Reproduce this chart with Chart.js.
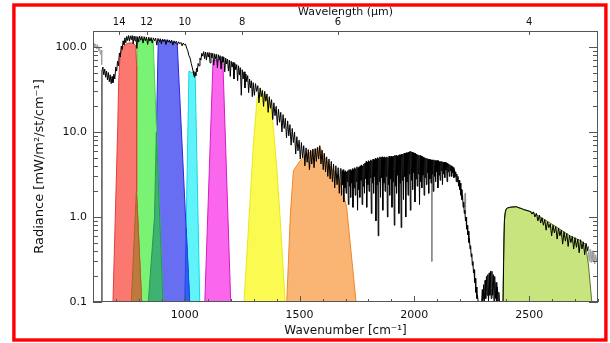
<!DOCTYPE html>
<html>
<head>
<meta charset="utf-8">
<script src="https://cdn.jsdelivr.net/npm/chart.js@4.4.1/dist/chart.umd.min.js"></script>
<style>
  html, body { margin: 0; padding: 0; background: #fff; }
  #wrap { position: relative; width: 610px; height: 343px; }
</style>
</head>
<body>
<div id="wrap"><canvas id="myChart" width="610" height="343"></canvas></div>
<script>
// axis ticks
const wavenumberLabels = [1000, 1500, 2000, 2500];
const wavelengthTicks = [14, 12, 10, 8, 6, 4];
const radianceLabels = [0.1, 1, 10, 100];

// measured spectrum [wavenumber, radiance]
const spectrum = [
  [638,0.09],[639,52],[643,58],[647,47],[651,55],[655,44],[659,52],[663,41],[667,50],[671,39],[675,47],[679,37],[683,45],[687,38],[691,48],[695,42],[699,58],[703,52],[707,68],[711,60],[715,85],[719,76],[723,102],[727,93],[731,118],[735,106],[739,128],[743,112],[747,133],[751,119],[755,136],[759,117],[763,135],[767,122],[771,136],[775,109],[779,134],[783,118],[787,133],[791,96],[795,132],[799,114],[803,134],[808,120],[813,133],[818,111],[823,132],[828,118],[833,131],[838,107],[843,130],[848,117],[853,129],[858,111],[863,128],[868,118],[873,127],[878,105],[883,126],[888,115],[893,125],[898,109],[903,124],[908,116],[913,123],[918,107],[923,122],[928,114],[933,121],[938,111],[943,120],[948,105],[953,118],[958,111],[963,117],[968,107],[973,115],[978,109],[983,113],[988,103],[993,111],[998,106],
  [1003,108],[1008,97],[1013,90],[1018,79],[1023,74],[1028,64],[1032,58],[1036,52],[1039,47],[1042,44],[1045,50],[1048,46],[1051,56],[1054,51],[1058,64],[1062,60],[1066,74],[1070,70],[1074,84],[1078,78],[1082,88],[1086,73],[1090,87],[1094,70],[1098,86],[1102,76],[1106,86],[1110,65],[1114,85],[1118,74],[1122,84],[1126,61],[1130,83],[1134,72],[1138,82],[1142,57],[1146,81],[1150,70],[1154,79],[1158,55],[1162,77],[1166,66],[1170,76],[1174,51],[1178,74],[1182,63],[1186,72],[1190,52],[1194,70],[1198,45],
  [1202,68],[1206,58],[1210,66],[1214,42],[1218,64],[1222,54],[1226,62],[1230,40],[1234,60],[1238,47],[1242,57],[1246,27],[1250,54],[1254,42],[1258,51],[1262,33],[1266,48],[1270,39],[1274,46],[1278,29],[1282,42],[1286,33],[1290,40],[1294,26],[1298,38],
  [1303,27],[1308,37],[1313,30],[1318,35],[1323,22],[1328,33],[1333,26],[1338,31],[1343,20],[1348,30],[1353,23],[1358,28],[1363,17],[1368,26],[1373,19],[1378,24],[1383,14],[1388,22],[1393,15.5],[1398,20],[1403,12],[1408,18.5],[1413,13],[1418,17],[1423,10],[1428,16],[1433,11],[1438,14.5],[1443,8.5],[1448,13.5],[1453,9],[1458,12.2],[1463,7],[1468,11],[1473,7.5],[1478,10],[1483,5.5],[1488,8.8],[1493,6],[1498,8],
  [1503,4.8],[1508,7.5],[1513,5],[1518,6.9],[1523,4],[1528,6.5],[1533,4.4],[1538,6.2],[1543,3.6],[1548,6.1],[1553,4.2],[1558,6.3],[1563,3.8],[1568,6.4],[1573,4.5],[1578,6.6],[1583,4.8],[1588,6.9],[1593,4.2],[1598,6.1],[1603,3.6],[1608,5.6],[1613,3.4],[1618,5.1],[1623,3.0],[1628,4.8],[1633,2.8],[1638,4.5],[1643,2.6],[1648,4.2],[1653,2.2],[1658,4.0],[1663,2.4],[1668,3.8],[1673,1.9],[1678,3.7],
  [1680,3.6],[1682.5,1.8],[1685,3.5],[1687.5,2.4],[1690,3.6],[1692.5,1.5],[1695,3.4],[1697.5,2.2],[1700,3.5],[1702.5,1.9],[1705,3.4],[1707.5,2.6],[1710,3.5],[1712.5,1.4],[1715,3.6],[1717.5,2.3],[1720,3.6],[1722.5,1.7],[1725,3.5],[1727.5,2.5],[1730,3.7],[1732.5,1.3],[1735,3.6],[1737.5,2.2],[1740,3.8],[1742.5,1.8],[1745,3.7],[1747.5,2.6],[1750,3.9],[1752.5,1.2],[1755,3.8],[1757.5,2.1],[1760,3.9],[1762.5,1.7],[1765,4.0],[1767.5,2.7],[1770,4.1],[1772.5,1.4],[1775,4.0],[1777.5,2.3],[1780,4.2],[1782.5,1.9],[1785,4.3],[1787.5,2.8],[1790,4.5],[1792.5,1.3],[1795,4.4],[1797.5,2.4],
  [1800,4.6],[1802.5,2.0],[1805,4.5],[1807.5,2.9],[1810,4.7],[1812.5,1.1],[1815,4.6],[1817.5,2.5],[1820,4.8],[1822.5,1.9],[1825,4.7],[1827.5,3.0],[1830,4.9],[1832.5,0.9],[1835,4.8],[1837.5,2.4],[1840,5.0],[1842.5,0.6],[1845,4.9],[1847.5,2.6],[1850,5.1],[1852.5,1.7],[1855,5.0],[1857.5,2.9],[1860,5.1],[1862.5,1.2],[1865,5.0],[1867.5,2.5],[1870,5.1],[1872.5,2.0],[1875,5.0],[1877.5,3.0],[1880,5.1],[1882.5,1.0],[1885,5.0],[1887.5,2.4],[1890,5.2],[1892.5,1.8],[1895,5.1],[1897.5,2.8],
  [1900,5.2],[1902.5,1.3],[1905,5.1],[1907.5,2.6],[1910,5.2],[1912.5,0.8],[1915,5.3],[1917.5,2.3],[1920,5.3],[1922.5,1.9],[1925,5.2],[1927.5,3.1],[1930,5.3],[1932.5,1.1],[1935,5.4],[1937.5,2.5],[1940,5.4],[1942.5,0.75],[1945,5.5],[1947.5,2.7],[1950,5.5],[1952.5,1.6],[1955,5.6],[1957.5,3.0],[1960,5.6],[1962.5,1.0],[1965,5.7],[1967.5,2.6],[1970,5.7],[1972.5,1.8],[1975,5.8],[1977.5,3.2],[1980,5.9],[1982.5,1.2],[1985,5.9],[1987.5,2.7],[1990,5.8],[1992.5,2.1],[1995,5.7],[1997.5,3.3],
  [2000,5.6],[2002.5,1.5],[2005,5.6],[2007.5,2.8],[2010,5.5],[2012.5,2.3],[2015,5.4],[2017.5,3.2],[2020,5.3],[2022.5,1.4],[2025,5.3],[2027.5,2.6],[2030,5.2],[2032.5,2.2],[2035,5.1],[2037.5,3.1],[2040,5.0],[2042.5,1.8],[2045,5.0],[2047.5,2.9],[2050,4.9],[2052.5,2.4],[2055,4.9],[2057.5,3.3],[2060,4.8],[2062.5,1.9],[2065,4.8],[2067.5,2.8],[2070,4.7],[2072.5,2.5],[2075,4.7],[2077.5,3.2],[2080,4.7],[2082.5,2.0],[2085,4.7],[2087.5,3.0],[2090,4.6],[2092.5,2.6],[2095,4.6],[2097.5,3.4],
  [2100,4.6],[2102.5,2.2],[2105,4.6],[2107.5,3.1],[2110,4.5],[2112.5,2.7],[2115,4.5],[2117.5,3.5],[2120,4.5],[2122.5,2.4],[2125,4.4],[2127.5,3.2],[2130,4.4],[2132.5,2.9],[2135,4.4],[2137.5,3.6],[2140,4.3],[2142.5,2.6],[2145,4.3],[2147.5,3.4],[2150,4.2],[2152.5,3.0],[2155,4.1],[2157.5,3.5],[2160,4.0],[2162.5,3.0],[2165,3.9],[2167.5,3.3],[2170,3.8],[2172.5,2.9],[2175,3.6],[2177.5,3.0],[2180,3.4],[2182.5,2.6],[2185,3.2],[2187.5,2.6],[2190,3.0],[2192.5,2.3],[2195,2.7],[2197.5,2.1],
  [2200,2.5],[2202.5,1.8],[2205,2.1],[2207.5,1.6],[2210,1.8],[2212.5,1.3],[2215,1.5],[2217.5,1.1],[2220,1.2],[2222.5,0.9],[2225,1.0],[2227.5,0.72],[2230,0.8],[2232.5,0.62],[2235,0.68],[2237.5,0.5],[2240,0.56],[2242.5,0.42],[2245,0.46],[2247.5,0.34],[2250,0.37],[2252.5,0.27],[2255,0.3],[2257.5,0.22],[2260,0.24],[2262.5,0.17],[2265,0.19],[2267.5,0.13],[2270,0.15],[2272.5,0.11],[2275,0.12],[2280,0.09],
  [2292,0.09],[2296,0.14],[2299,0.09],[2302,0.16],[2305,0.1],[2308,0.18],[2311,0.11],[2314,0.2],[2317,0.12],[2320,0.21],[2323,0.1],[2326,0.22],[2329,0.12],[2332,0.23],[2335,0.11],[2338,0.23],[2341,0.12],[2344,0.21],[2347,0.1],[2350,0.2],[2353,0.11],[2356,0.17],[2359,0.1],[2362,0.15],[2365,0.09],[2368,0.13],[2372,0.09],
  [2386,0.09],[2389,0.3],[2392,0.9],[2396,1.15],[2400,1.24],[2405,1.28],[2415,1.3],[2425,1.31],[2435,1.32],[2446,1.32],[2456,1.28],[2466,1.26],[2476,1.22],[2486,1.2],[2496,1.18],[2506,1.16],[2512,1.08],[2519,1.15],[2525,1.0],[2532,1.1],[2538,0.9],[2545,1.05],[2550,0.85],[2556,0.98],[2562,0.8],[2568,0.93],[2574,0.7],[2580,0.88],[2586,0.75],[2592,0.83],[2598,0.6],
  [2604,0.8],[2610,0.65],[2616,0.77],[2622,0.55],[2628,0.74],[2634,0.6],[2640,0.7],[2646,0.48],[2652,0.67],[2658,0.52],[2664,0.64],[2670,0.45],[2676,0.61],[2682,0.5],[2688,0.59],[2694,0.42],[2700,0.57],[2706,0.44],[2712,0.55],[2718,0.38],[2724,0.54],[2730,0.42],[2736,0.51],[2742,0.36],[2748,0.49],[2754,0.4],[2758,0.45]
];

// grey parts of the spectrum
const greyLeft = [[600,104],[604,112],[608,98],[612,108],[616,95],[620,106],[624,90],[628,100],[632,82],[636,92],[638,62]];
const greyLines = [[2074,4.7],[2076,0.3],[2078,4.6],null,[2219,1.3],[2221,1.9],[2223,1.1]];
const greyRight = [[2756,0.44],[2762,0.3],[2766,0.42],[2770,0.29],[2774,0.4],[2778,0.3],[2782,0.38],[2786,0.28],[2790,0.36],[2794,0.3],[2798,0.35],[2800,0.32]];

// filter channels (shaded)
const redBand = [[687,0.1],[708,12],[712,40],[718,80],[730,100],[745,108],[760,112],[775,110],[786,104],[790,60],[790,2],[812,0.1]];
const greenBand = [[767,0.1],[788,2],[790,10],[792,112],[805,122],[830,124],[850,120],[862,118],[877,10],[905,0.1]];
const blueBand = [[841,0.1],[868,1.0],[876,10],[884,112],[900,120],[930,116],[955,112],[967,108],[1021,0.1]];
const cyanBand = [[1000,0.1],[1018,52],[1030,50],[1045,50],[1065,0.1]];
const magentaBand = [[1087,0.1],[1123,70],[1145,70],[1166,64],[1200,0.1]];
const yellowBand = [[1258,0.1],[1300,8],[1315,25],[1330,30],[1355,26],[1375,21],[1386,11],[1400,4],[1415,1],[1437,0.1]];
const orangeBand = [[1444,0.1],[1460,1.1],[1473,3.5],[1500,4.5],[1530,5.5],[1560,6],[1589,6.6],[1610,5],[1640,3.7],[1670,3.0],[1705,1.3],[1746,0.1]];
const limeBand = [[2386,0.1],[2390,0.6],[2394,1.05],[2400,1.22],[2406,1.27],[2420,1.3],[2446,1.31],[2480,1.22],[2519,1.12],[2562,0.95],[2620,0.76],[2678,0.6],[2722,0.53],[2745,0.48],[2758,0.28],[2773,0.1]];
// where neighbouring channels overlap
const redGreenOverlap = [[767,0.1],[789,2],[812,0.1]];
const greenBlueOverlap = [[841,0.1],[868,1.0],[876,10],[877,10],[905,0.1]];
const blueCyanOverlap = [[1000,0.1],[1006,0.73],[1021,0.1]];

const xy = (arr) => arr.map((p) => (p ? { x: p[0], y: p[1] } : { x: null, y: null }));

function band(points, fillColor, edgeColor) {
  return {
    data: xy(points),
    backgroundColor: fillColor,
    borderColor: edgeColor,
    borderWidth: 1,
    fill: "start",
    pointRadius: 0,
    tension: 0,
  };
}

function line(points, color) {
  return {
    data: xy(points),
    borderColor: color,
    borderWidth: 1,
    fill: false,
    pointRadius: 0,
    tension: 0,
    spanGaps: false,
  };
}

// inward tick marks, plot frame and the red outer frame
const frame = {
  id: "frame",
  afterDatasetsDraw(chart) {
    const { ctx, chartArea: a, scales } = chart;
    ctx.save();
    ctx.strokeStyle = "#555";
    ctx.lineWidth = 1;
    ctx.beginPath();
    scales.y.ticks.forEach((t) => {
      const y = Math.round(scales.y.getPixelForValue(t.value)) + 0.5;
      const len = t.major ? 9 : 5;
      ctx.moveTo(a.left, y);
      ctx.lineTo(a.left + len, y);
      ctx.moveTo(a.right, y);
      ctx.lineTo(a.right - len, y);
    });
    scales.x.ticks.forEach((t) => {
      const x = Math.round(scales.x.getPixelForValue(t.value)) + 0.5;
      const len = t.value % 500 === 0 ? 6 : 3;
      ctx.moveTo(x, a.bottom);
      ctx.lineTo(x, a.bottom - len);
    });
    scales.x2.ticks.forEach((t) => {
      const x = Math.round(scales.x2.getPixelForValue(t.value)) + 0.5;
      ctx.moveTo(x, a.top);
      ctx.lineTo(x, a.top + 4);
    });
    ctx.stroke();
    ctx.strokeRect(Math.round(a.left) + 0.5, Math.round(a.top) + 0.5, Math.round(a.right - a.left) - 1, Math.round(a.bottom - a.top) - 1);
    ctx.restore();
  },
  afterDraw(chart) {
    const { ctx } = chart;
    ctx.save();
    ctx.strokeStyle = "#ff0000";
    ctx.lineWidth = 3.4;
    ctx.strokeRect(13.9, 5, 592, 335);
    ctx.restore();
  },
};

Chart.defaults.font.family = "'DejaVu Sans', sans-serif";
Chart.defaults.color = "#111";

const ctx = document.getElementById("myChart").getContext("2d");
new Chart(ctx, {
  type: "line",
  data: {
    datasets: [
      line(spectrum, "#000"),
      line(greyLeft, "#9a9a9a"),
      line(greyLines, "#8a8a8a"),
      line(greyRight, "#9a9a9a"),
      band(redGreenOverlap, "rgb(190,122,62)", "rgb(170,100,40)"),
      band(greenBlueOverlap, "rgb(62,178,112)", "rgb(40,150,90)"),
      band(blueCyanOverlap, "rgb(44,100,240)", "rgb(30,70,230)"),
      band(redBand, "rgb(250,120,112)", "rgb(230,60,60)"),
      band(greenBand, "rgb(122,242,116)", "rgb(70,215,70)"),
      band(blueBand, "rgb(104,110,242)", "rgb(40,40,225)"),
      band(cyanBand, "rgb(96,244,250)", "rgb(20,215,225)"),
      band(magentaBand, "rgb(250,102,236)", "rgb(210,30,196)"),
      band(yellowBand, "rgb(250,250,80)", "rgb(232,232,30)"),
      band(orangeBand, "rgb(250,180,116)", "rgb(240,135,40)"),
      band(limeBand, "rgb(200,228,126)", "rgb(90,120,40)"),
    ],
  },
  options: {
    responsive: false,
    animation: false,
    layout: { padding: { left: 0, right: 12, top: 0, bottom: 0 } },
    plugins: { legend: { display: false }, tooltip: { enabled: false } },
    scales: {
      x: {
        type: "linear",
        position: "bottom",
        min: 600,
        max: 2800,
        grid: { display: false, drawTicks: false },
        border: { display: false },
        ticks: {
          stepSize: 100,
          autoSkip: false,
          maxRotation: 0,
          padding: 7,
          font: { size: 11 },
          callback: (v) => (wavenumberLabels.includes(v) ? String(v) : ""),
        },
        title: { display: true, text: "Wavenumber [cm⁻¹]", font: { size: 12 }, padding: { top: 0, bottom: 5 } },
        afterFit: (s) => { s.height = 41; },
      },
      x2: {
        type: "linear",
        position: "top",
        min: 600,
        max: 2800,
        grid: { display: false, drawTicks: false },
        border: { display: false },
        afterBuildTicks: (s) => { s.ticks = wavelengthTicks.map((w) => ({ value: 10000 / w })); },
        ticks: {
          autoSkip: false,
          maxRotation: 0,
          padding: 3,
          font: { size: 10 },
          callback: (v) => String(Math.round(10000 / v)),
        },
        title: { display: true, text: "Wavelength (µm)", font: { size: 11 }, padding: { top: 6, bottom: 0 } },
        afterFit: (s) => { s.height = 31; },
      },
      y: {
        type: "logarithmic",
        position: "left",
        min: 0.1,
        max: 154,
        grid: { display: false, drawTicks: false },
        border: { display: false },
        afterBuildTicks: (s) => {
          const t = [];
          radianceLabels.forEach((d) => {
            for (let m = 1; m <= 9; m++) {
              const v = m * d;
              if (v <= 154) t.push({ value: v, major: m === 1 });
            }
          });
          s.ticks = t;
        },
        ticks: {
          autoSkip: false,
          padding: 6,
          font: { size: 11 },
          callback: (v) => (radianceLabels.includes(v) ? v.toFixed(1) : ""),
        },
        title: { display: true, text: "Radiance [mW/m²/st/cm⁻¹]", font: { size: 13 }, padding: { top: 32, bottom: 0 } },
        afterFit: (s) => { s.width = 93; },
      },
    },
  },
  plugins: [frame],
});
</script>
</body>
</html>
